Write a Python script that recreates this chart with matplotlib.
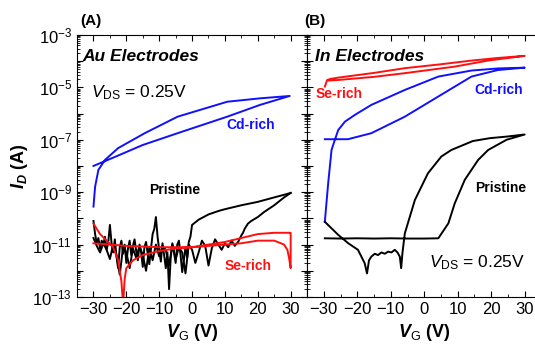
import numpy as np
import matplotlib
matplotlib.use('Agg')
import matplotlib.pyplot as plt
from matplotlib.ticker import LogLocator, FuncFormatter, NullFormatter, MultipleLocator

plt.rcParams['font.family'] = ['Liberation Sans', 'DejaVu Sans']
plt.rcParams['mathtext.fontset'] = 'custom'
plt.rcParams['mathtext.rm'] = 'Liberation Sans'
plt.rcParams['mathtext.it'] = 'Liberation Sans:italic'
plt.rcParams['mathtext.bf'] = 'Liberation Sans:bold:italic'

# ---- panel A (Au electrodes), log10(I_D) vs V_G ----
cd_a_v = [-30, -29.5, -28.5, -26.5, -22.5, -14.4, -4.4, 10.7, 20.7, 29.7,
          20.7, 10.7, -4.4, -15, -24.5, -30]
cd_a_log = [-9.55, -8.79, -8.15, -7.77, -7.32, -6.75, -6.12, -5.55, -5.42, -5.33,
            -5.67, -6.12, -6.75, -7.2, -7.71, -8.0]

pr_a_noise1_v = list(np.arange(-30, 0.01, 0.5))
pr_a_noise1_log = [-10.10, -10.60, -10.95, -10.75, -11.15, -10.85, -11.00, -10.70,
                   -11.20, -10.90, -10.25, -10.95, -11.30, -10.80, -11.45, -11.90,
                   -11.10, -10.85, -11.35, -11.00, -11.70, -11.15, -10.85, -11.40,
                   -11.05, -10.80, -11.25, -11.60, -11.00, -11.30, -11.85, -11.10,
                   -10.90, -11.35, -11.75, -11.15, -10.60, -10.40, -9.95, -10.70,
                   -11.20, -11.65, -10.95, -11.40, -11.90, -11.30, -12.70, -11.50,
                   -10.95, -11.30, -11.70, -11.00, -10.85, -11.40, -12.05, -11.60,
                   -11.10, -11.50, -10.90, -10.70, -10.25]
pr_a_up_v = [0.5, 2, 5, 8, 10, 15, 20, 25, 28, 30]
pr_a_up_log = [-10.2, -10.05, -9.85, -9.72, -9.65, -9.5, -9.37, -9.2, -9.1, -9.03]
pr_a_down_v = [30, 28, 25, 22, 20, 18, 17, 16.5, 16, 15.5]
pr_a_down_log = [-9.03, -9.2, -9.5, -9.75, -9.95, -10.1, -10.2, -10.3, -10.4, -10.55]
pr_a_noise2_v = list(range(15, -31, -1))
pr_a_noise2_log = [-10.65, -10.90, -11.05, -10.85, -11.10, -10.95, -11.20, -11.00,
                   -10.80, -11.15, -11.80, -11.05, -10.85, -11.30, -11.70, -11.20,
                   -11.00, -12.10, -11.30, -11.10, -11.55, -11.00, -11.80, -11.20,
                   -11.05, -11.45, -11.00, -11.60, -11.10, -12.00, -11.40, -11.05,
                   -11.50, -11.15, -11.90, -11.30, -11.10, -12.15, -11.40, -11.00,
                   -11.55, -11.20, -10.95, -11.30, -11.05, -10.75]

se_a_v = [-30, -28, -26, -24, -22.5, -21.5, -21, -20.5, -20, -18, -15, -10, -5,
          0, 5, 10, 15, 20, 25, 29.8, 30,
          30, 29.5, 29, 28, 25, 20, 15, 10, 5, 0, -10, -20, -25, -30]
se_a_log = [-10.2, -10.6, -10.85, -11.1, -11.6, -12.4, -13.3, -12.3, -11.9, -11.6,
            -11.4, -11.25, -11.15, -11.1, -11.0, -10.9, -10.75, -10.6, -10.55,
            -10.55, -10.55,
            -11.9, -11.5, -11.2, -11.0, -10.85, -10.85, -10.95, -11.0, -11.05,
            -11.1, -11.1, -11.05, -11.0, -10.95]

# ---- panel B (In electrodes) ----
se_b_v = [-29.7, -29, -28, -25.7, -15, -5.8, 5, 14.1, 22, 30,
          19, 9.1, -5.8, -15, -25.7, -28.5]
se_b_log = [-4.97, -4.72, -4.68, -4.63, -4.45, -4.27, -4.12, -3.98, -3.88, -3.8,
            -3.98, -4.21, -4.46, -4.6, -4.72, -4.74]

cd_b_v = [-29.7, -28.7, -27.7, -26.7, -25.7, -23.7, -20.7, -15.8, -5.8, 4.2, 14.1,
          22, 30,
          22, 14.1, 4.2, -5.8, -15.8, -22.8, -26, -29.7]
cd_b_log = [-10.13, -8.66, -7.39, -7.0, -6.63, -6.31, -6.05, -5.67, -5.1, -4.59,
            -4.36, -4.28, -4.25,
            -4.34, -4.59, -5.35, -6.12, -6.75, -6.98, -6.98, -6.98]

pr_b_v = [-29.7, -25, -20, -15, -10, -5, 0, 4.2, 7.2, 9.1, 12.1, 16.1, 19.1,
          24.6, 30,
          24.6, 19.6, 14.5, 8.1, 5.1, 1.1, -2.8, -5.8, -6.5, -6.9, -7.3, -8.0,
          -8.8, -9.8, -10.8, -11.8, -12.8, -13.8, -14.8, -15.8, -16.5, -17.1,
          -17.8, -19.8, -22.7, -25.7, -29.7]
pr_b_log = [-10.76, -10.77, -10.76, -10.77, -10.76, -10.77, -10.77, -10.76,
            -10.19, -9.43, -8.53, -7.77, -7.39, -7.0, -6.8,
            -6.88, -6.94, -7.05, -7.39, -7.64, -8.28, -9.3, -10.57, -11.3,
            -11.9, -11.46, -11.3, -11.2, -11.3, -11.27, -11.35, -11.3, -11.4,
            -11.35, -11.46, -11.6, -12.1, -11.71, -11.2, -10.95, -10.63, -10.13]

fig = plt.figure(figsize=(5.35, 3.49), dpi=100)
axA = fig.add_axes([0.144, 0.149, 0.430, 0.751])
axB = fig.add_axes([0.574, 0.149, 0.438, 0.751])

lw = 1.4
axA.plot(cd_a_v, 10 ** np.array(cd_a_log), color='#1010ff', lw=lw)
axA.plot(pr_a_noise1_v + pr_a_up_v, 10 ** np.array(pr_a_noise1_log + pr_a_up_log),
         color='black', lw=lw)
axA.plot(pr_a_down_v + pr_a_noise2_v, 10 ** np.array(pr_a_down_log + pr_a_noise2_log),
         color='black', lw=lw)
axA.plot(se_a_v, 10 ** np.array(se_a_log), color='#ff1010', lw=lw)

axB.plot(se_b_v, 10 ** np.array(se_b_log), color='#ff1010', lw=lw)
axB.plot(cd_b_v, 10 ** np.array(cd_b_log), color='#1010ff', lw=lw)
axB.plot(pr_b_v, 10 ** np.array(pr_b_log), color='black', lw=lw)


def ylab(y, pos):
    e = int(round(np.log10(y)))
    return r'$10^{%d}$' % e if e % 2 else ''


for ax in (axA, axB):
    ax.set_yscale('log')
    ax.set_xlim(-35, 35)
    ax.set_ylim(1e-13, 1e-3)
    ax.xaxis.set_major_locator(MultipleLocator(10))
    ax.xaxis.set_minor_locator(MultipleLocator(5))
    ax.yaxis.set_major_locator(LogLocator(base=10, numticks=20))
    ax.yaxis.set_minor_locator(LogLocator(base=10, subs=np.arange(2, 10), numticks=20))
    ax.yaxis.set_minor_formatter(NullFormatter())
    ax.yaxis.set_major_formatter(FuncFormatter(ylab))
    ax.tick_params(which='both', direction='in', top=True, right=True, labelsize=12)
    ax.tick_params(which='major', length=4)
    ax.tick_params(which='minor', length=2)
    ax.set_xlabel(r'$\mathbf{V}_{\rm G}$ (V)', fontsize=13, fontweight='bold', labelpad=4)

axB.tick_params(axis='y', labelleft=False)
axA.set_ylabel(r'$\mathbf{I_D}$ (A)', fontsize=13, fontweight='bold', labelpad=2)

axA.text(0.013, 1.025, '(A)', transform=axA.transAxes, fontsize=11, fontweight='bold',
         va='bottom', ha='left')
axB.text(-0.01, 1.025, '(B)', transform=axB.transAxes, fontsize=11, fontweight='bold',
         va='bottom', ha='left')
axA.text(0.025, 0.945, 'Au Electrodes', transform=axA.transAxes, fontsize=12.5,
         fontweight='bold', style='italic', va='top')
axB.text(0.035, 0.945, 'In Electrodes', transform=axB.transAxes, fontsize=12.5,
         fontweight='bold', style='italic', va='top')

axA.text(0.06, 0.78, r'$V_{\rm DS}$ = 0.25V', transform=axA.transAxes, fontsize=12.5,
         va='center')
axB.text(0.52, 0.13, r'$V_{\rm DS}$ = 0.25V', transform=axB.transAxes, fontsize=12.5,
         va='center')

axA.text(0.65, 0.655, 'Cd-rich', transform=axA.transAxes, fontsize=10, fontweight='bold',
         color='#1010ff', va='center')
axA.text(0.315, 0.41, 'Pristine', transform=axA.transAxes, fontsize=10, fontweight='bold',
         color='black', va='center')
axA.text(0.64, 0.118, 'Se-rich', transform=axA.transAxes, fontsize=10, fontweight='bold',
         color='#ff1010', va='center')

axB.text(0.035, 0.775, 'Se-rich', transform=axB.transAxes, fontsize=10, fontweight='bold',
         color='#ff1010', va='center')
axB.text(0.715, 0.79, 'Cd-rich', transform=axB.transAxes, fontsize=10, fontweight='bold',
         color='#1010ff', va='center')
axB.text(0.715, 0.415, 'Pristine', transform=axB.transAxes, fontsize=10, fontweight='bold',
         color='black', va='center')

fig.savefig('out.png', dpi=100)
